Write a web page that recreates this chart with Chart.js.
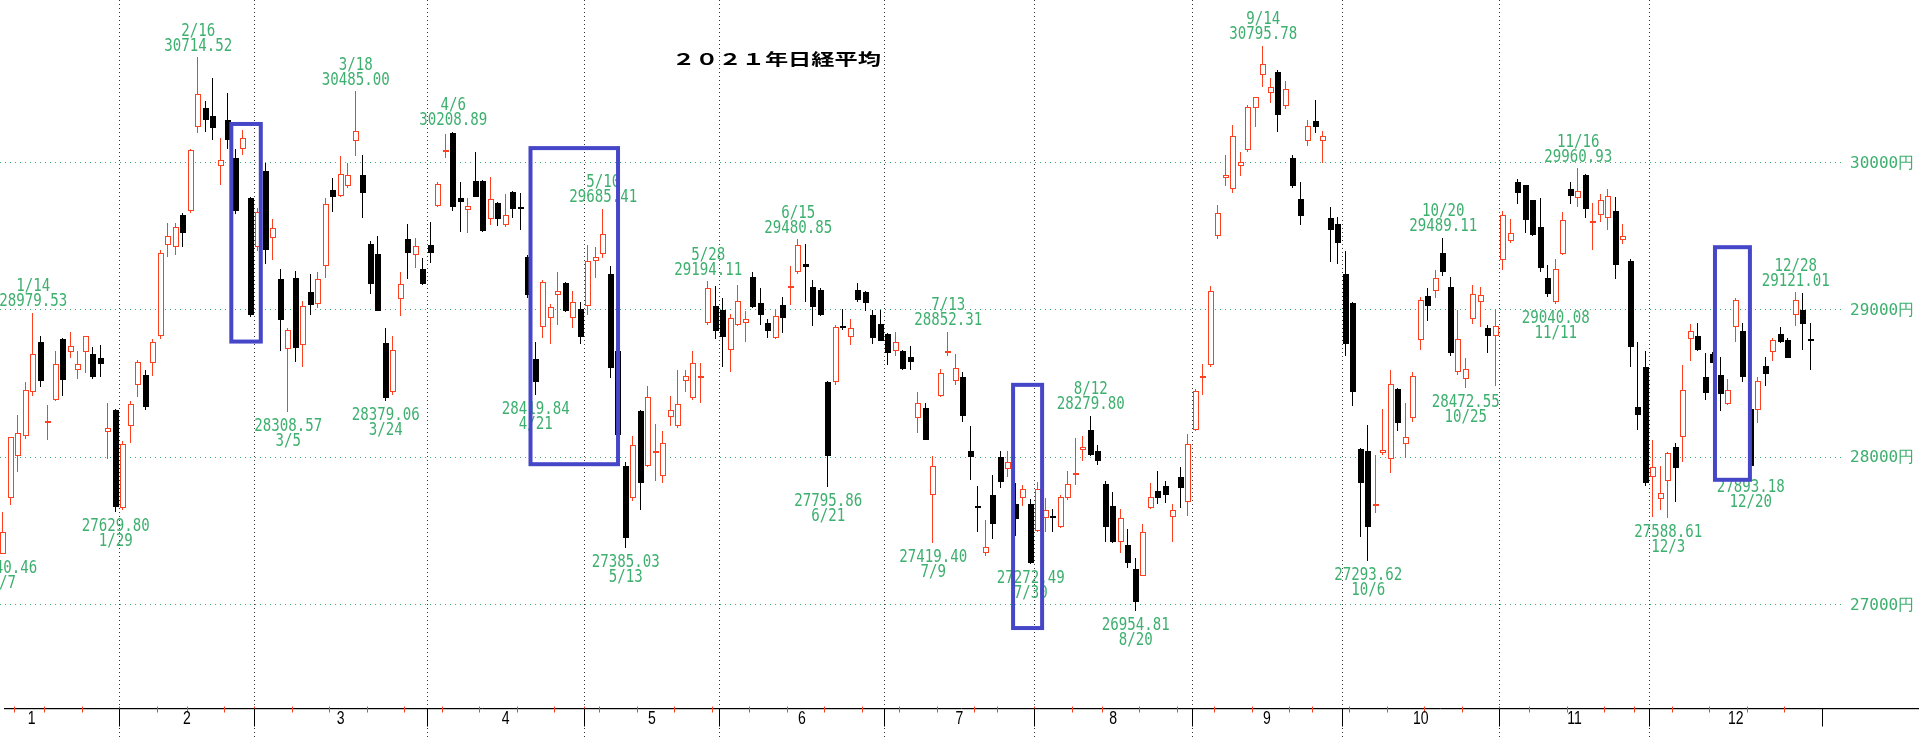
<!DOCTYPE html>
<html>
<head>
<meta charset="utf-8">
<script src="https://cdn.jsdelivr.net/npm/chart.js"></script>
<style>
  html, body { margin: 0; padding: 0; background: #fff; overflow: hidden; }
</style>
</head>
<body>
<canvas id="chart" width="1919" height="739"></canvas>
<script>
// trading days shown (2021)
const dates = [
  '1/7','1/8','1/12','1/13','1/14','1/15','1/18','1/19','1/20','1/21','1/22','1/25','1/26','1/27','1/28','1/29',
  '2/1','2/2','2/3','2/4','2/5','2/8','2/9','2/10','2/12','2/15','2/16','2/17','2/18','2/19','2/22','2/24','2/25','2/26',
  '3/1','3/2','3/3','3/4','3/5','3/8','3/9','3/10','3/11','3/12','3/15','3/16','3/17','3/18','3/19','3/22','3/23','3/24','3/25','3/26','3/29','3/30','3/31',
  '4/1','4/2','4/5','4/6','4/7','4/8','4/9','4/12','4/13','4/14','4/15','4/16','4/19','4/20','4/21','4/22','4/23','4/26','4/27','4/28','4/30',
  '5/6','5/7','5/10','5/11','5/12','5/13','5/14','5/17','5/18','5/19','5/20','5/21','5/24','5/25','5/26','5/27','5/28','5/31',
  '6/1','6/2','6/3','6/4','6/7','6/8','6/9','6/10','6/11','6/14','6/15','6/16','6/17','6/18','6/21','6/22','6/23','6/24','6/25','6/28','6/29','6/30',
  '7/1','7/2','7/5','7/6','7/7','7/8','7/9','7/12','7/13','7/14','7/15','7/16','7/19','7/20','7/21','7/26','7/27','7/28','7/29','7/30',
  '8/2','8/3','8/4','8/5','8/6','8/10','8/11','8/12','8/13','8/16','8/17','8/18','8/19','8/20','8/23','8/24','8/25','8/26','8/27','8/30','8/31',
  '9/1','9/2','9/3','9/6','9/7','9/8','9/9','9/10','9/13','9/14','9/15','9/16','9/17','9/21','9/22','9/24','9/27','9/28','9/29','9/30',
  '10/1','10/4','10/5','10/6','10/7','10/8','10/11','10/12','10/13','10/14','10/15','10/18','10/19','10/20','10/21','10/22','10/25','10/26','10/27','10/28','10/29',
  '11/1','11/2','11/4','11/5','11/8','11/9','11/10','11/11','11/12','11/15','11/16','11/17','11/18','11/19','11/22','11/24','11/25','11/26','11/29','11/30',
  '12/1','12/2','12/3','12/6','12/7','12/8','12/9','12/10','12/13','12/14','12/15','12/16','12/17','12/20','12/21','12/22','12/23','12/24','12/27','12/28','12/29','12/30'
];

const opens = [
  27340.46,27720,28008,28145,28443,28782,28230,28391,28801,28711,28590,28711,28698,28673,28174,28321,
  27656,28209,28488,28561,28641,28826,29440,29424,29642,29670,30240,30374,30320,29978,30288,30032,30093,29760,
  29424,29946,29488,29207,28737,29216,28760,29121,29041,29296,29815,29776,29840,30150,29914,29450,29383,28775,28443,29073,29482,29376,29280,
  29440,29706,30070,30200,29760,29680,29878,29878,29616,29728,29578,29799,29700,29360,28667,28887,28945,29104,29184,28945,29003,
  29025,29335,29383,29242,28721,27937,27723,28315,27937,28030,27873,28273,28209,28519,28401,28540,28913,29025,
  29000,28730,28897,28910,29223,29050,28913,28807,29035,29150,29255,29310,29153,29137,28513,28507,28890,28817,29137,29121,28967,28903,
  28833,28721,28721,28683,28264,28331,27745,28417,28705,28519,28545,28040,27660,27346,27745,28000,27921,27681,27720,27681,
  27496,27585,27601,27528,27720,27880,28049,28187,28040,27816,27665,27426,27400,27240,27195,27656,27771,27803,27592,27867,27697,
  28187,28535,28625,29504,29894,29824,29978,30086,30374,30598,30470,30614,30384,30032,29751,30144,30281,30144,29623,29584,
  29242,29047,28056,28040,27665,28030,27985,28465,28091,28263,28794,29095,29127,29386,29153,28577,28529,28935,29057,28874,28826,
  29338,29466,29872,29850,29744,29562,29216,29057,29383,29818,29760,29914,29590,29648,29626,29670,29478,29335,28343,28609,
  27867,27713,27841,28071,28135,28801,28826,28545,28698,28561,28359,28881,28858,28327,28321,28618,28711,28839,28794,28967,29000,28795
];

const highs = [
  27624,28139,28289,28513,28979.53,28826,28353,28721,28810,28849,28721,28826,28750,28759,28369,28330,
  28110,28380,28660,28590,28800,29410,29591,29590,29660,30090,30714.52,30416,30576,30170,30470,30096,30224,29770,
  29690,30000,29616,29280,28880,29264,29060,29242,29255,29760,29894,30042,30000,30485.00,30054,29466,29504,28874,28826,29255,29584,29488,29350,
  29594,29870,30192,30208.89,29872,29760,30074,29880,29904,29735,29785,29808,29792,29370,28785,29200,29040,29255,29190,29130,29057,
  29440,29424,29685.41,29296,28740,27969,28145,28320,28481,28225,28175,28417,28593,28593,28721,28641,29194.11,29159,
  29079,28970,29168,28994,29255,29146,28935,29009,29089,29296,29480.85,29447,29200,29146,28515,28900,29009,28935,29184,29127,28999,28999,
  28840,28853,28730,28753,28443,28369,28010,28600,28852.31,28698,28577,28209,27803,27570,27880,28040,28040,27825,27809,27713,
  27833,27720,27649,27745,27905,28129,28145,28279.80,28081,27835,27761,27649,27515,27314,27545,27825,27905,27835,27681,27930,28160,
  28465,28634,29159,29712,30054,30256,30074,30394,30448,30795.78,30576,30630,30553,30054,29872,30288,30425,30214,29696,29632,
  29402,29057,28065,28216,28017,28327,28593,28468,28369,28577,29089,29146,29274,29489.11,29223,29000,28673,29168,29153,28897,29009,
  29670,29616,29888,29850,29744,29760,29302,29344,29664,29872,29960.93,29920,29728,29786,29824,29766,29584,29344,28785,28721,
  28113,27937,28032,28097,28625,28904,28913,28705,28711,28679,28529,29082,28913,28340,28545,28682,28807,28881,28807,29121.01,29114,28913
];

const lows = [
  27340.46,27672,27896,28120,28417,28474,28113,28380,28417,28673,28529,28570,28530,28545,27984,27629.80,
  27640,28096,28407,28320,28551,28800,29360,29376,29424,29660,30201,30208,30153,29850,30096,29650,30054,28950,
  29400,29312,29338,28721,28308.57,28647,28615,28967,29010,29216,29664,29766,29830,30048,29626,29110,28990,28379.06,28420,28960,29210,29287,29170,
  29319,29696,30032,29670,29530,29522,29766,29530,29575,29570,29560,29625,29543,29080,28419.84,28807,28769,28897,28985,28880,28769,
  28967,29220,29350,28535,28080,27385.03,27700,27640,27930,27841,27825,28209,28200,28440,28390,28369,28897,28801,
  28609,28577,28890,28785,29010,28897,28807,28800,28840,29031,29242,29057,28890,28960,27795.86,28488,28865,28765,29057,28990,28770,28791,
  28625,28689,28590,28590,28161,28113,27419.40,28410,28690,28487,28241,27848,27490,27330,27442,27793,27865,27464,27665,27272.49,
  27490,27490,27490,27520,27710,27809,27976,28010,27945,27426,27420,27346,27250,26954.81,27190,27650,27681,27690,27426,27656,27601,
  28180,28423,28615,29479,29840,29792,29910,30074,30240,30512,30405,30208,30368,29830,29575,30112,30201,30000,29328,29312,
  28689,28347,27458,27293.62,27618,28017,27890,28180,27995,28241,28730,28922,29082,29232,28689,28561,28472.55,28903,28881,28705,28481,
  29274,29456,29722,29520,29504,29255,29089,29040.08,29376,29722,29696,29626,29408,29594,29545,29210,29446,28609,28187,27805,
  27592,27643,27588.61,27697,27969,28651,28720,28391,28640,28315,28353,28785,28513,27893.18,28232,28483,28650,28775,28670,28890,28730,28593
];

const closes = [
  27490,28139,28164,28456,28698,28519,28242,28633,28523,28756,28631,28822,28546,28635,28197,27663,
  28091,28362,28646,28341,28779,29388,29505,29562,29520,30084,30467,30292,30236,30017,30156,29671,30168,28966,
  29663,29408,29559,28930,28864,28743,29027,29036,29211,29717,29766,29921,29914,30216,29792,29174,28995,28405,28729,29176,29384,29432,29178,
  29388,29854,30089,29696,29730,29708,29768,29538,29751,29620,29642,29683,29685,29100,28508,29188,29020,29126,28991,29053,28813,
  29331,29357,29518,28608,28147,27448,28084,27824,28406,28044,28098,28317,28364,28553,28642,28549,29149,28860,
  28814,28946,29058,28941,29019,28963,28860,28958,28948,29161,29441,29291,29018,28964,28010,28884,28874,28875,29066,29048,28812,28791,
  28707,28783,28598,28643,28366,28118,27940,28569,28718,28608,28279,28003,27652,27388,27548,27833,27970,27581,27782,27283,
  27781,27641,27584,27728,27820,27888,28070,28015,27977,27523,27424,27585,27281,27013,27494,27732,27724,27742,27641,27789,28089,
  28451,28543,29128,29659,29916,30181,30008,30381,30447,30670,30511,30323,30500,29839,29639,30248,30240,30184,29544,29452,
  28771,28444,27822,27528,27678,28048,28498,28230,28140,28550,29068,29025,29215,29255,28708,28804,28600,29106,29098,28820,28892,
  29647,29520,29794,29611,29507,29285,29106,29277,29609,29776,29808,29688,29598,29745,29774,29302,29499,28751,28283,27821,
  27935,27753,28029,27927,28455,28860,28725,28437,28640,28432,28459,29066,28545,27937,28517,28562,28798,28782,28676,29069,28906,28791
];

// days whose high / low is written on the chart
const highMarks = ['1/14','2/16','3/18','4/6','5/10','5/28','6/15','7/13','8/12','9/14','10/20','11/16','12/28'];
const lowMarks = ['1/7','1/29','3/5','3/24','4/21','5/13','6/21','7/9','7/30','8/20','10/6','10/25','11/11','12/3','12/20'];

const yTicks = [27000, 28000, 29000, 30000];
const title = '２０２１年日経平均';

// hand-drawn blue frames: [first day idx, last day idx, top price, bottom price]
const frames = [
  [30.42, 34.35, 30263, 28785],
  [70.31, 81.98, 30099, 27952],
  [134.65, 138.52, 28491, 26839],
  [228.23, 232.89, 29426, 27846]
];

const UP = '#ff4020';
const DOWN = '#000000';
const GREEN = '#3daf6e';

const isUp = closes.map((c, i) => c >= opens[i]);
const monthOf = dates.map(d => +d.split('/')[0]);
const dow = dates.map(d => { const [m, dd] = d.split('/'); return new Date(2021, m - 1, +dd).getDay(); });

const monthStarts = [];
monthOf.forEach((m, i) => { if (i === 0 || m !== monthOf[i - 1]) monthStarts.push(i); });
const weekStarts = [];
dow.forEach((w, i) => { if (i > 0 && w <= dow[i - 1]) weekStarts.push(i); });

// snap candles to whole pixels so the thin outlines stay sharp
const snap = {
  id: 'snap',
  afterDatasetsUpdate(chart) {
    chart.getSortedVisibleDatasetMetas().forEach(meta => {
      const wick = meta.index === 1;
      meta.data.forEach(el => {
        el.x = wick ? Math.round(el.x) - 0.5 : Math.round(el.x);
        el.y = Math.round(el.y);
        el.base = Math.round(el.base);
      });
    });
  }
};

const decor = {
  id: 'decor',
  beforeDatasetsDraw(chart) {
    const { ctx, chartArea: area, scales: { x, y } } = chart;
    const axisY = area.bottom + 0.5;
    const px = v => Math.round(x.getPixelForValue(v)) + 0.5;
    ctx.save();
    ctx.lineWidth = 1;

    // month dividers
    ctx.strokeStyle = '#333';
    ctx.setLineDash([1, 3]);
    monthStarts.slice(1).forEach(i => {
      ctx.beginPath();
      ctx.moveTo(px(i - 0.5), 0);
      ctx.lineTo(px(i - 0.5), chart.height);
      ctx.stroke();
    });
    ctx.setLineDash([]);

    // axis line
    ctx.strokeStyle = '#000';
    ctx.beginPath(); ctx.moveTo(4, axisY); ctx.lineTo(chart.width, axisY); ctx.stroke();
    ctx.strokeStyle = '#c8c8c8';
    ctx.beginPath(); ctx.moveTo(4, axisY + 1); ctx.lineTo(chart.width, axisY + 1); ctx.stroke();

    // week marks
    ctx.strokeStyle = UP;
    weekStarts.forEach(i => {
      ctx.beginPath(); ctx.moveTo(px(i - 0.5), axisY - 2); ctx.lineTo(px(i - 0.5), axisY + 4); ctx.stroke();
    });

    // month ticks under axis
    ctx.strokeStyle = '#000';
    const ends = monthStarts.slice(1).map(i => i - 0.5).concat([dates.length + 0.5]);
    ends.forEach(v => {
      ctx.beginPath(); ctx.moveTo(px(v), axisY); ctx.lineTo(px(v), axisY + 18); ctx.stroke();
    });

    // month labels
    ctx.fillStyle = '#000';
    ctx.font = '18px "Liberation Sans", Arial, sans-serif';
    ctx.textAlign = 'center';
    ctx.textBaseline = 'middle';
    monthStarts.forEach((s, k) => {
      const from = k === 0 ? 3.8 * 2 - ends[0] : s - 0.5;
      const mid = (from + ends[k]) / 2;
      ctx.save();
      ctx.translate(x.getPixelForValue(mid), area.bottom + 11);
      ctx.scale(0.78, 1);
      ctx.fillText(String(monthOf[s]), 0, 0);
      ctx.restore();
    });

    // price labels on the right
    ctx.fillStyle = GREEN;
    ctx.font = '16px "DejaVu Sans Mono", monospace';
    ctx.textAlign = 'left';
    yTicks.forEach(v => ctx.fillText(v + '円', area.right + 7, y.getPixelForValue(v) + 1));
    ctx.restore();
  },
  afterDatasetsDraw(chart) {
    const { ctx, scales: { x, y } } = chart;
    ctx.save();

    // high / low notes
    ctx.fillStyle = GREEN;
    ctx.font = '17px "DejaVu Sans Mono", monospace';
    ctx.textAlign = 'center';
    ctx.textBaseline = 'alphabetic';
    const note = (text, cx, by) => {
      ctx.save();
      ctx.translate(cx, by);
      ctx.scale(0.83, 1);
      ctx.fillText(text, 0, 0);
      ctx.restore();
    };
    highMarks.forEach(d => {
      const i = dates.indexOf(d);
      const cx = x.getPixelForValue(i);
      const top = y.getPixelForValue(highs[i]);
      note(highs[i].toFixed(2), cx, top - 6.5);
      note(d, cx, top - 21.5);
    });
    lowMarks.forEach(d => {
      const i = dates.indexOf(d);
      const cx = x.getPixelForValue(i);
      const bot = y.getPixelForValue(lows[i]);
      note(lows[i].toFixed(2), cx, bot + 19);
      note(d, cx, bot + 34);
    });

    // title
    ctx.fillStyle = '#000';
    ctx.font = 'bold 16px "Noto Sans CJK JP", sans-serif';
    ctx.textBaseline = 'middle';
    ctx.save();
    ctx.translate(776.5, 59);
    ctx.scale(1.45, 1);
    ctx.fillText(title, 0, 0);
    ctx.restore();

    // blue frames
    ctx.strokeStyle = '#4646c8';
    ctx.lineWidth = 4;
    frames.forEach(([a, b, hi, lo]) => {
      const x0 = x.getPixelForValue(a), x1 = x.getPixelForValue(b);
      const y0 = y.getPixelForValue(hi), y1 = y.getPixelForValue(lo);
      ctx.strokeRect(x0, y0, x1 - x0, y1 - y0);
    });
    ctx.restore();
  }
};

new Chart(document.getElementById('chart'), {
  type: 'bar',
  data: {
    datasets: [
      {
        label: 'body',
        data: dates.map((d, i) => ({ x: i, y: [opens[i], closes[i]] })),
        backgroundColor: isUp.map(u => u ? '#ffffff' : DOWN),
        borderColor: isUp.map(u => u ? UP : DOWN),
        borderWidth: 1,
        borderSkipped: false,
        barThickness: 6,
        minBarLength: 2,
        grouped: false,
        inflateAmount: 0
      },
      {
        label: 'wick',
        data: dates.map((d, i) => ({ x: i, y: [lows[i], highs[i]] })),
        backgroundColor: isUp.map(u => u ? UP : DOWN),
        borderWidth: 0,
        barThickness: 1,
        grouped: false,
        inflateAmount: 0
      }
    ]
  },
  options: {
    responsive: false,
    devicePixelRatio: 1,
    animation: false,
    events: [],
    layout: { padding: { left: 0, right: 0, top: 0, bottom: 31 }, autoPadding: false },
    plugins: { legend: { display: false }, tooltip: { enabled: false }, title: { display: false } },
    scales: {
      x: { type: 'linear', min: -0.42, max: 245.3, offset: false, display: false },
      y: {
        position: 'right',
        min: 26296,
        max: 31105,
        afterBuildTicks: s => { s.ticks = yTicks.map(v => ({ value: v })); },
        afterFit: s => { s.width = 76; },
        border: { display: false, dash: [1, 4] },
        grid: { color: GREEN, lineWidth: 1, drawTicks: false },
        ticks: { display: false }
      }
    }
  },
  plugins: [snap, decor]
});
</script>
</body>
</html>
